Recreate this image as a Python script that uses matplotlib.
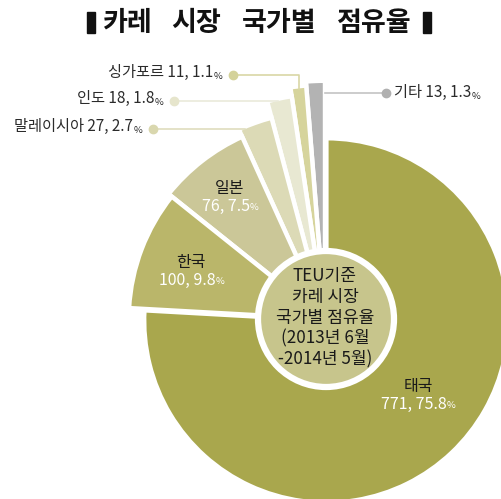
import matplotlib
matplotlib.use('Agg')
import numpy as np
import matplotlib.pyplot as plt
from matplotlib.patches import Circle, Rectangle

plt.rcParams['font.family'] = ['Noto Sans CJK KR', 'DejaVu Sans']

# Curry market share by country (TEU), counter-clockwise from 12 o'clock
countries = ['기타', '싱가포르', '인도', '말레이시아', '일본', '한국', '태국']
counts = [13, 11, 18, 27, 76, 100, 771]
pcts = ['1.3', '1.1', '1.8', '2.7', '7.5', '9.8', '75.8']

title_words = ['카레', '시장', '국가별', '점유율']
center_note = 'TEU기준\n카레 시장\n국가별 점유율\n(2013년 6월\n-2014년 5월)'

# styling per slice
slice_colors = ['#b3b3b3', '#d6d49c', '#e8e8d2', '#dcdab6', '#cbc798', '#bab66a', '#a9a74d']
dot_colors = ['#b0b0b0', '#d4d29a', '#e6e5cc', '#d9d7ae']
line_colors = ['#c4c4c4', '#d9d7a5', '#eaeada', '#dfddbd']
slice_radius = [236, 232, 223, 206, 198, 194, 180]
explode = [0, 0, 0, 0, 0, 0, 2]

W, H = 501, 499
CX, CY = 325, 180
EDGE = 3.2
half_edge = EDGE / 72 * 100 / 2
LABEL_FS = 11
PCT_FS = 6.8
INK = '#2b2b2b'

fig = plt.figure(figsize=(W / 100, H / 100), dpi=100)
ax = fig.add_axes([0, 0, 1, 1])

wedges, _ = ax.pie(counts, startangle=90, counterclock=True, colors=slice_colors,
                   center=(CX, CY), radius=200, explode=explode,
                   wedgeprops=dict(edgecolor='white', linewidth=EDGE))
for w, r in zip(wedges, slice_radius):
    w.set_radius(r + half_edge)

ax.set_xlim(0, W)
ax.set_ylim(0, H)
ax.set_aspect('equal')
ax.axis('off')

# center disc with note
ax.add_patch(Circle((326, 180), 68, facecolor='#c7c58c', edgecolor='white',
                    linewidth=4.5, zorder=5))
ax.text(325, 181, center_note, ha='center', va='center', fontsize=12.3,
        linespacing=1.2, color='#1a1a1a', zorder=6)

# title words, spaced out between two bars
for word, x in zip(title_words, [128, 196, 279, 374]):
    ax.text(x, 476, word, ha='center', va='center', fontsize=19.5,
            fontweight='bold', color='#111111')
ax.add_patch(Rectangle((87, 466), 8, 21, color='#111111'))
ax.add_patch(Rectangle((423, 466), 8, 21, color='#111111'))


def arc_x_at(i, y):
    r = slice_radius[i]
    return CX - np.sqrt(max(r ** 2 - (y - CY) ** 2, 0))


def right_label(x, y, i):
    pct = ax.text(x, y, '%', ha='right', va='baseline', fontsize=PCT_FS, color=INK)
    ax.annotate(f'{countries[i]} {counts[i]}, {pcts[i]}', xy=(0, 0), xycoords=pct,
                ha='right', va='bottom', fontsize=LABEL_FS, fontweight='medium',
                color=INK)


# small slices labelled outside, on the left
for i, (tx, ty) in [(1, (222, 424)), (2, (163, 398)), (3, (142, 370))]:
    right_label(tx, ty - 4, i)
    dx = tx + 11
    if i == 1:
        mid = np.deg2rad((wedges[i].theta1 + wedges[i].theta2) / 2)
        mx = CX + slice_radius[i] * np.cos(mid)
        my = CY + slice_radius[i] * np.sin(mid)
        ax.plot([dx, mx, mx], [ty, ty, my], color=line_colors[i], lw=1.2, zorder=1)
    else:
        ax.plot([dx, arc_x_at(i, ty)], [ty, ty], color=line_colors[i], lw=1.2, zorder=1)
    ax.plot(dx, ty, 'o', ms=6, color=dot_colors[i], zorder=2)

# "others" labelled on the right
oy = 406
ax.plot([CX, 386], [oy, oy], color=line_colors[0], lw=1.2, zorder=1)
ax.plot(386, oy, 'o', ms=6, color=dot_colors[0], zorder=2)
main = ax.text(394, oy - 4, f'{countries[0]} {counts[0]}, {pcts[0]}', ha='left',
               va='baseline', fontsize=LABEL_FS, fontweight='medium', color=INK)
ax.annotate('%', xy=(1, 0), xycoords=main, ha='left', va='bottom', fontsize=PCT_FS,
            color=INK)

# large slices labelled inside
for i, (lx, ly) in [(4, (230, 302)), (5, (191, 228)), (6, (418, 104))]:
    ax.text(lx, ly + 9, countries[i], ha='center', va='center', fontsize=11.5,
            fontweight='medium', color='#1a1a1a', zorder=6)
    val = ax.text(lx - 4, ly - 9, f'{counts[i]}, {pcts[i]}', ha='center', va='center',
                  fontsize=11.5, color='white', zorder=6)
    ax.annotate('%', xy=(1, 0.12), xycoords=val, ha='left', va='bottom', fontsize=PCT_FS,
                color='white', zorder=6)

fig.savefig('out.png', dpi=100)
